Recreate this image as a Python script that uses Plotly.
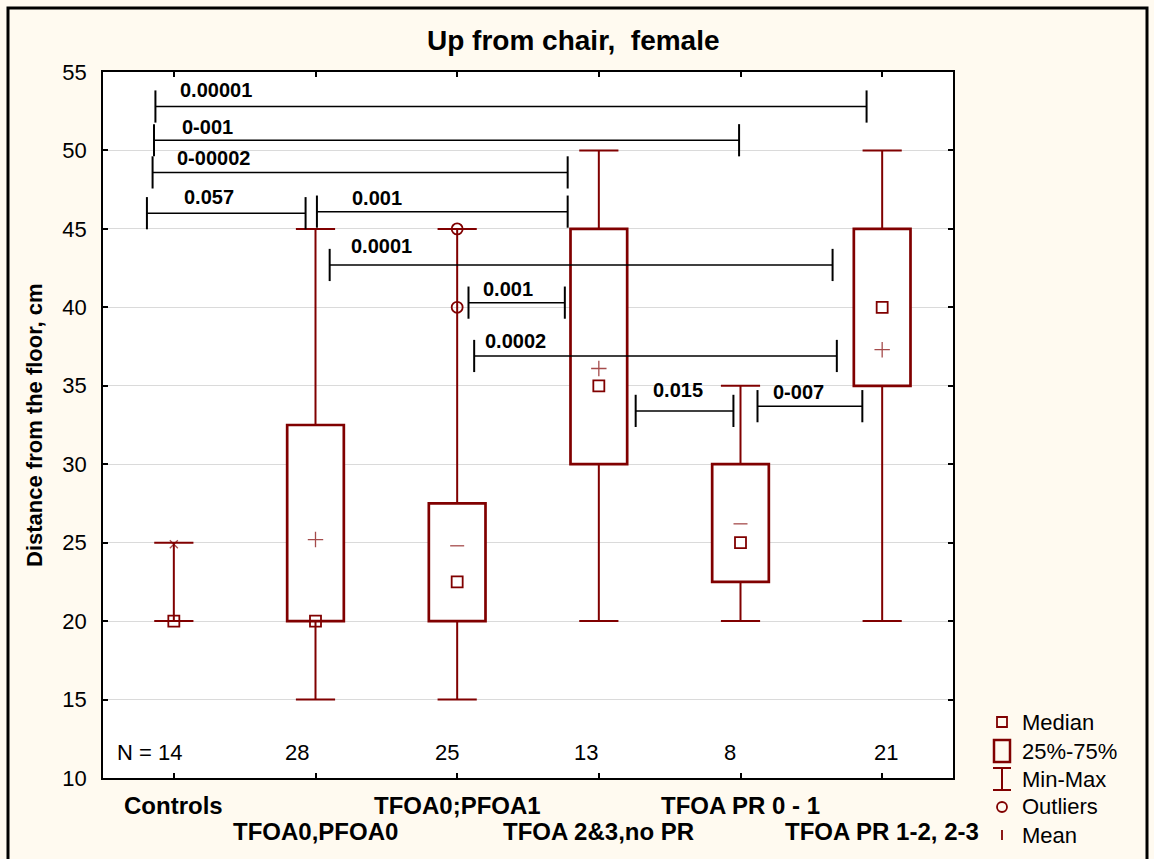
import plotly.graph_objects as go

# ---------------- data ----------------
categories = ["Controls", "TFOA0,PFOA0", "TFOA0;PFOA1", "TFOA 2&3,no PR",
              "TFOA PR 0 - 1", "TFOA PR 1-2, 2-3"]
n_counts = [14, 28, 25, 13, 8, 21]
mins = [20, 15, 15, 20, 20, 20]
q1 = [20, 20, 20, 30, 22.5, 35]
medians = [20, 20, 22.5, 35, 25, 40]
q3 = [20, 32.5, 27.5, 45, 30, 45]
maxs = [25, 45, 45, 50, 35, 50]
means = [24.9, 25.2, 24.8, 36.1, 26.2, 37.3]
outlier_group = [2, 2]
outlier_values = [40, 45]

bracket_start = [-0.13, -0.14, -0.15, -0.19, 1.01, 1.10, 2.08, 2.12, 3.26, 4.12]
bracket_end = [4.89, 3.99, 2.78, 0.93, 2.78, 4.65, 2.76, 4.68, 3.95, 4.86]
bracket_y = [52.8, 50.65, 48.6, 46.0, 46.1, 42.7, 40.3, 36.9, 33.4, 33.7]
bracket_p = ["0.00001", "0-001", "0-00002", "0.057", "0.001", "0.0001",
             "0.001", "0.0002", "0.015", "0-007"]

# ---------------- styles ----------------
RED = "#800000"
BG = "#FFFAF0"
FONT = "Liberation Sans, Arial, sans-serif"
mean_symbols = ["x-thin", "cross-thin", "line-ew", "cross-thin", "line-ew", "cross-thin"]
mean_sizes = [8, 11, 10, 11, 10, 11]
label_dx = [23, 26, 22, 35, 33, 19, 12, 9, 15, 13]
label_dy = [17, 13, 14, 16, 14, 19, 14, 15, 21, 14]
n_dx = [-24, -19, -10, -13, -11, 4]

W, H = 1154, 859
ML, MR, MT, MB = 103, 201, 72, 81
PW, PH = W - ML - MR, H - MT - MB


def pxx(x):
    return (x - ML) / PW


def pxy(y):
    return 1 - (y - MT) / PH


xs = list(range(len(categories)))
fig = go.Figure()

# boxes (25%-75%)
bx = [x for x, a, b in zip(xs, q1, q3) if b > a]
bbase = [a for a, b in zip(q1, q3) if b > a]
bh = [b - a for a, b in zip(q1, q3) if b > a]
fig.add_trace(go.Bar(x=bx, y=bh, base=bbase, width=0.4,
                     marker=dict(color="white", line=dict(color=RED, width=2.7)),
                     hoverinfo="skip", showlegend=False))

# whiskers
wx, wy = [], []
for x, lo, a, b, hi in zip(xs, mins, q1, q3, maxs):
    wx += [x, x, None, x, x, None]
    wy += [lo, a, None, b, hi, None]
fig.add_trace(go.Scatter(x=wx, y=wy, mode="lines", line=dict(color=RED, width=2),
                         hoverinfo="skip", showlegend=False))
# whisker caps
fig.add_trace(go.Scatter(x=xs + xs, y=mins + maxs, mode="markers",
                         marker=dict(symbol="line-ew", size=28,
                                     line=dict(color=RED, width=2)),
                         hoverinfo="skip", showlegend=False))
# medians
fig.add_trace(go.Scatter(x=xs, y=medians, mode="markers",
                         marker=dict(symbol="square-open", size=11, color=RED,
                                     line=dict(color=RED, width=1.8)),
                         hoverinfo="skip", showlegend=False))
# means
fig.add_trace(go.Scatter(x=xs, y=means, mode="markers",
                         marker=dict(symbol=mean_symbols, size=mean_sizes, color=RED,
                                     line=dict(color=RED, width=1.3)),
                         hoverinfo="skip", showlegend=False))
# outliers
fig.add_trace(go.Scatter(x=outlier_group, y=outlier_values, mode="markers",
                         marker=dict(symbol="circle-open", size=11, color=RED,
                                     line=dict(color=RED, width=1.8)),
                         hoverinfo="skip", showlegend=False))

# significance brackets
lx, ly = [], []
for s, e, y in zip(bracket_start, bracket_end, bracket_y):
    lx += [s, e, None]
    ly += [y, y, None]
fig.add_trace(go.Scatter(x=lx, y=ly, mode="lines", line=dict(color="black", width=1.5),
                         hoverinfo="skip", showlegend=False))
fig.add_trace(go.Scatter(x=bracket_start + bracket_end, y=bracket_y + bracket_y,
                         mode="markers",
                         marker=dict(symbol="line-ns", size=23,
                                     line=dict(color="black", width=2)),
                         hoverinfo="skip", showlegend=False))

annotations = []
for s, y, p, dx, dy in zip(bracket_start, bracket_y, bracket_p, label_dx, label_dy):
    annotations.append(dict(x=s, y=y, xref="x", yref="y", text=f"<b>{p}</b>",
                            showarrow=False, xanchor="left", yanchor="middle",
                            xshift=dx, yshift=dy,
                            font=dict(size=20, color="black", family=FONT)))

# N labels
for i, (x, n) in enumerate(zip(xs, n_counts)):
    t = f"N = {n}" if i == 0 else str(n)
    annotations.append(dict(x=x, y=11.65, xref="x", yref="y", text=t, showarrow=False,
                            xanchor="center", yanchor="middle", xshift=n_dx[i],
                            font=dict(size=22, color="black", family=FONT)))

# category labels (staggered)
for i, (x, c) in enumerate(zip(xs, categories)):
    yp = pxy(805) if i % 2 == 0 else pxy(832)
    annotations.append(dict(x=x, y=yp, xref="x", yref="paper", text=f"<b>{c}</b>",
                            showarrow=False, xanchor="center", yanchor="middle",
                            font=dict(size=24, color="black", family=FONT)))

# title and y-axis title
annotations.append(dict(x=pxx(573), y=pxy(41), xref="paper", yref="paper",
                        text="<b>Up from chair,  female</b>", showarrow=False,
                        xanchor="center", yanchor="middle",
                        font=dict(size=28, color="black", family=FONT)))
annotations.append(dict(x=pxx(34), y=0.5, xref="paper", yref="paper",
                        text="<b>Distance from the floor, cm</b>", showarrow=False,
                        textangle=-90, xanchor="center", yanchor="middle",
                        font=dict(size=22, color="black", family=FONT)))

# legend
legend_items = ["Median", "25%-75%", "Min-Max", "Outliers", "Mean"]
legend_rows = [722, 751, 779, 807, 835]
for t, yy in zip(legend_items, legend_rows):
    annotations.append(dict(x=pxx(1020), y=pxy(yy), xref="paper", yref="paper",
                            text=t, showarrow=False, xanchor="left", yanchor="middle",
                            font=dict(size=22, color="black", family=FONT)))

shapes = []
LX = pxx(1002)


def pshape(kind, x0, y0, x1, y1, yrow, width=2):
    return dict(type=kind, xref="paper", yref="paper", xsizemode="pixel",
                ysizemode="pixel", xanchor=LX, yanchor=pxy(yrow),
                x0=x0, x1=x1, y0=y0, y1=y1, line=dict(color=RED, width=width))


shapes.append(pshape("rect", -5, -5, 5, 5, legend_rows[0], 1.8))
shapes.append(pshape("rect", -8, -11, 8, 11, legend_rows[1], 2.5))
shapes.append(pshape("line", -9, 11, 9, 11, legend_rows[2], 2))
shapes.append(pshape("line", -9, -11, 9, -11, legend_rows[2], 2))
shapes.append(pshape("line", 0, -11, 0, 11, legend_rows[2], 2))
shapes.append(pshape("circle", -5, -5, 5, 5, legend_rows[3], 1.8))
shapes.append(pshape("line", 0, -5, 0, 5, legend_rows[4], 1.8))

# outer frame
shapes.append(dict(type="rect", xref="paper", yref="paper",
                   x0=pxx(8), x1=pxx(1147), y0=pxy(870), y1=pxy(8),
                   line=dict(color="black", width=3), layer="above"))

fig.update_layout(
    width=W, height=H,
    margin=dict(l=ML, r=MR, t=MT, b=MB, autoexpand=False),
    paper_bgcolor=BG, plot_bgcolor="white",
    showlegend=False, annotations=annotations, shapes=shapes,
    font=dict(family=FONT, color="black"),
    xaxis=dict(range=[-0.5, 5.5], tickvals=xs, showticklabels=False, ticks="inside",
               ticklen=5, tickwidth=1.5, tickcolor="black", showline=True,
               linecolor="black", linewidth=1.5, mirror="ticks", showgrid=False,
               zeroline=False, fixedrange=True),
    yaxis=dict(range=[10, 55], dtick=5, tick0=10, ticks="inside", ticklen=5,
               tickwidth=1.5, tickcolor="black", showline=True, linecolor="black",
               linewidth=1.5, mirror="ticks", showgrid=True, gridcolor="#DADADA",
               gridwidth=1, zeroline=False, ticklabelstandoff=10,
               tickfont=dict(size=22, color="black", family=FONT), fixedrange=True),
)

fig.write_html("out.html", config={"displayModeBar": False},
               post_script="document.body.style.margin='0';document.body.style.overflow='hidden';")
